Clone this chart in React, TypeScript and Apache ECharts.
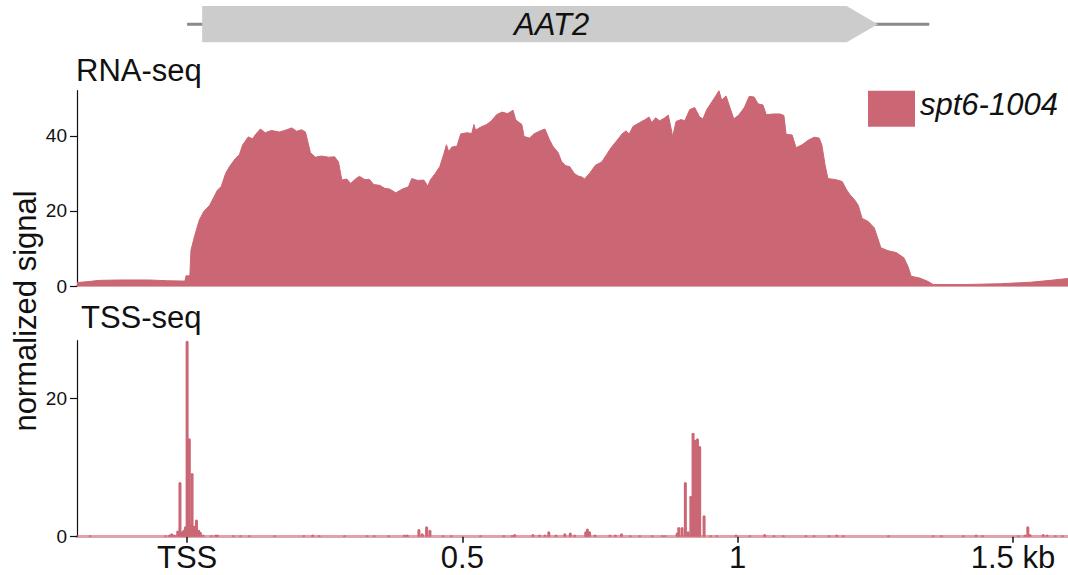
import React, { useEffect, useRef } from "react";
import * as echarts from "echarts";

// ---------- data ----------
const seriesName = "spt6-1004";
const geneName = "AAT2";
// gene model (kb from TSS)
const geneLineStart = 0;
const geneLineEnd = 1.348;
const geneBoxStart = 0.0273;
const geneArrowStart = 1.198;
const geneArrowEnd = 1.2545;
const geneLabelPos = 0.662;

// x ticks
const xTickValues = [0, 0.5, 1, 1.5];
const xTickLabels = ["TSS", "0.5", "1", "1.5 kb"];

// RNA-seq coverage (kb, normalized signal)
const rnaKb = [
  -0.2, -0.178, -0.159, -0.123, -0.069, -0.036, -0.004, -0.002, 0.005, 0.007,
  0.013, 0.022, 0.03, 0.041, 0.048, 0.055, 0.062, 0.07, 0.077, 0.088,
  0.095, 0.101, 0.111, 0.119, 0.124, 0.133, 0.142, 0.153, 0.168, 0.179,
  0.19, 0.199, 0.208, 0.215, 0.224, 0.233, 0.244, 0.257, 0.268, 0.275,
  0.281, 0.29, 0.297, 0.306, 0.313, 0.323, 0.331, 0.339, 0.35, 0.359,
  0.368, 0.379, 0.391, 0.402, 0.408, 0.419, 0.43, 0.437, 0.442, 0.451,
  0.459, 0.466, 0.471, 0.475, 0.481, 0.49, 0.497, 0.508, 0.517, 0.521,
  0.524, 0.533, 0.544, 0.553, 0.562, 0.572, 0.582, 0.592, 0.597, 0.608,
  0.612, 0.622, 0.63, 0.641, 0.65, 0.658, 0.664, 0.674, 0.68, 0.688,
  0.695, 0.703, 0.71, 0.717, 0.722, 0.731, 0.742, 0.753, 0.762, 0.77,
  0.781, 0.79, 0.797, 0.803, 0.81, 0.822, 0.832, 0.839, 0.844, 0.851,
  0.858, 0.866, 0.874, 0.879, 0.882, 0.888, 0.897, 0.904, 0.913, 0.922,
  0.931, 0.937, 0.944, 0.953, 0.961, 0.966, 0.971, 0.979, 0.986, 0.993,
  1.002, 1.012, 1.021, 1.03, 1.037, 1.046, 1.052, 1.064, 1.077, 1.084,
  1.088, 1.099, 1.106, 1.117, 1.128, 1.139, 1.148, 1.153, 1.159, 1.164,
  1.179, 1.19, 1.197, 1.204, 1.212, 1.219, 1.226, 1.237, 1.248, 1.255,
  1.26, 1.273, 1.288, 1.302, 1.31, 1.315, 1.331, 1.346, 1.355, 1.415,
  1.477, 1.532, 1.568, 1.6,
];
const rnaSignal = [
  0.9, 1.2, 1.5, 1.6, 1.6, 1.4, 1.3, 2.7, 2.7, 9.5,
  13.0, 17.5, 19.8, 21.5, 23.5, 25.5, 26.5, 30.0, 31.8, 34.0,
  35.0, 37.6, 39.7, 39.2, 40.3, 41.8, 40.8, 41.4, 41.0, 41.5,
  42.1, 41.2, 41.6, 41.0, 35.5, 34.3, 34.6, 34.3, 34.4, 33.0,
  28.2, 28.5, 27.3, 28.5, 29.2, 28.3, 28.4, 27.0, 26.8, 26.0,
  25.8, 24.8, 25.8, 26.4, 28.6, 28.1, 28.2, 26.6, 28.3, 30.0,
  31.8, 35.0, 37.6, 35.8, 37.0, 37.2, 40.5, 40.8, 40.6, 43.0,
  41.5, 42.3, 43.0, 44.0, 45.6, 46.3, 45.9, 46.8, 44.2, 43.0,
  39.8, 39.4, 40.5, 41.3, 41.8, 39.0, 37.3, 35.5, 33.2, 32.0,
  31.8, 30.0, 29.3, 29.0, 28.5, 30.0, 32.2, 33.0, 35.0, 36.8,
  38.8, 40.5, 41.3, 40.5, 42.5, 43.5, 44.3, 45.0, 43.5, 44.8,
  44.0, 44.6, 45.5, 42.0, 39.8, 43.8, 44.3, 44.0, 47.0, 47.5,
  45.0, 44.5, 47.0, 49.0, 50.8, 52.0, 49.5, 50.6, 47.5, 44.5,
  45.5, 47.5, 50.5, 50.3, 48.5, 48.2, 45.6, 45.8, 45.8, 45.4,
  40.4, 40.2, 36.8, 37.6, 38.8, 39.6, 39.4, 37.5, 32.0, 28.6,
  28.3, 27.8, 25.8, 24.3, 23.0, 21.5, 18.0, 17.2, 15.5, 12.5,
  10.2, 9.4, 8.9, 7.5, 5.0, 2.6, 2.1, 1.2, 0.4, 0.4,
  0.6, 1.0, 1.5, 2.0,
];

// TSS-seq signal (kb, normalized signal)
const tssKb = [
  -0.176, -0.039, -0.032, -0.028, -0.023, -0.017, -0.013, -0.009, -0.006, -0.003,
  0.0, 0.004, 0.006, 0.009, 0.012, 0.017, 0.021, 0.024, 0.029, 0.044,
  0.052, 0.055, 0.084, 0.097, 0.113, 0.159, 0.212, 0.228, 0.24, 0.286,
  0.327, 0.34, 0.366, 0.395, 0.4, 0.421, 0.427, 0.435, 0.441, 0.465,
  0.48, 0.533, 0.575, 0.59, 0.595, 0.628, 0.64, 0.65, 0.657, 0.67,
  0.686, 0.696, 0.704, 0.724, 0.727, 0.731, 0.741, 0.768, 0.778, 0.789,
  0.805, 0.822, 0.845, 0.863, 0.868, 0.89, 0.893, 0.899, 0.905, 0.91,
  0.915, 0.919, 0.923, 0.927, 0.931, 0.939, 0.951, 0.962, 0.997, 1.022,
  1.049, 1.066, 1.083, 1.124, 1.139, 1.166, 1.18, 1.192, 1.274, 1.355,
  1.37, 1.41, 1.433, 1.445, 1.51, 1.522, 1.527, 1.531, 1.555, 1.562,
  1.577, 1.59,
];
const tssSignal = [
  0.2, 0.2, 0.3, 0.5, 0.3, 0.9, 7.9, 0.8, 1.0, 1.5,
  28.3, 14.2, 1.8, 9.2, 1.6, 2.5, 1.0, 0.7, 0.3, 0.2,
  0.3, 0.3, 0.2, 0.2, 0.2, 0.2, 0.2, 0.3, 0.2, 0.2,
  0.2, 0.2, 0.2, 0.3, 0.3, 1.1, 0.5, 1.5, 1.0, 0.2,
  0.2, 0.2, 0.2, 0.2, 0.4, 0.4, 0.3, 0.3, 0.8, 0.3,
  0.5, 0.6, 0.3, 0.8, 1.2, 0.8, 0.3, 0.3, 0.3, 0.5,
  0.2, 0.2, 0.2, 0.2, 0.2, 0.6, 1.4, 1.4, 7.9, 0.8,
  5.9, 15.0, 14.0, 14.2, 13.1, 3.1, 0.2, 0.2, 0.3, 0.2,
  0.4, 0.2, 0.2, 0.2, 0.2, 0.2, 0.3, 0.2, 0.2, 0.2,
  0.2, 0.2, 0.3, 0.2, 0.2, 0.3, 1.5, 0.4, 0.4, 0.3,
  0.2, 0.2,
];

// y ticks
const rnaTicks = [0, 20, 40];
const tssTicks = [0, 20];

// ---------- style ----------
const FONT = "'Liberation Sans', Arial, Helvetica, sans-serif";
const RED = "#cb6674";
const BASE = "rgba(203,102,116,0.6)";
const INK = "#111";

export default function App() {
  const ref = useRef<HTMLDivElement>(null);

  useEffect(() => {
    if (!ref.current) return;
    const chart = echarts.init(ref.current, null, { renderer: "svg" });

    const rnaData = rnaKb.map((x, i) => [x, rnaSignal[i]]);
    const tssData = tssKb.map((x, i) => [x, tssSignal[i]]);

    const left = 77;
    const xBase = {
      type: "value",
      min: -0.2,
      max: 1.6,
      splitLine: { show: false },
    };
    const yBase = {
      type: "value",
      min: 0,
      splitLine: { show: false },
      axisLine: { show: true, onZero: false, lineStyle: { color: INK, width: 1.2 } },
      axisTick: { show: true, length: 7, lineStyle: { color: INK, width: 1.2 } },
      axisLabel: { color: INK, fontSize: 19, fontFamily: FONT, margin: 10 },
    };

    const option: any = {
      animation: false,
      grid: [
        { left, right: 0, top: 90.7, height: 195.3 },
        { left, right: 0, top: 340.7, height: 196 },
        { left, right: 0, top: 6, height: 36.3 },
      ],
      xAxis: [
        {
          ...xBase,
          gridIndex: 0,
          axisLine: { show: true, onZero: true, lineStyle: { color: BASE, width: 2 } },
          axisTick: { show: false },
          axisLabel: { show: false },
        },
        {
          ...xBase,
          gridIndex: 1,
          axisLine: { show: true, onZero: true, lineStyle: { color: BASE, width: 3 } },
          axisTick: {
            show: true,
            customValues: xTickValues,
            length: 6,
            lineStyle: { color: INK, width: 1.5 },
          },
          axisLabel: {
            show: true,
            customValues: xTickValues,
            color: INK,
            fontSize: 31,
            fontFamily: FONT,
            margin: 5,
            formatter: (v: number) => {
              const i = xTickValues.findIndex((t) => Math.abs(t - v) < 1e-6);
              return i >= 0 ? xTickLabels[i] : "";
            },
          },
        },
        {
          ...xBase,
          gridIndex: 2,
          show: false,
        },
      ],
      yAxis: [
        {
          ...yBase,
          gridIndex: 0,
          max: 52,
          axisTick: { ...yBase.axisTick, customValues: rnaTicks },
          axisLabel: { ...yBase.axisLabel, customValues: rnaTicks },
        },
        {
          ...yBase,
          gridIndex: 1,
          max: 28.3,
          axisTick: { ...yBase.axisTick, customValues: tssTicks },
          axisLabel: { ...yBase.axisLabel, customValues: tssTicks },
        },
        { type: "value", gridIndex: 2, min: 0, max: 1, show: false },
      ],
      series: [
        {
          name: seriesName,
          type: "line",
          xAxisIndex: 0,
          yAxisIndex: 0,
          data: rnaData,
          showSymbol: false,
          symbol: "none",
          lineStyle: { color: RED, width: 1 },
          areaStyle: { color: RED, opacity: 1 },
          itemStyle: { color: RED },
          silent: true,
          z: 3,
        },
        {
          name: seriesName,
          type: "bar",
          xAxisIndex: 1,
          yAxisIndex: 1,
          data: tssData,
          barWidth: 3,
          itemStyle: { color: RED, borderRadius: [1.5, 1.5, 0, 0] },
          silent: true,
          z: 3,
        },
        {
          type: "custom",
          xAxisIndex: 2,
          yAxisIndex: 2,
          clip: false,
          silent: true,
          data: [[geneLineStart, geneLineEnd, geneBoxStart, geneArrowStart, geneArrowEnd, geneLabelPos]],
          renderItem: (params: any, api: any) => {
            const top = api.coord([0, 1])[1];
            const bot = api.coord([0, 0])[1];
            const mid = (top + bot) / 2;
            const px = (v: number) => api.coord([v, 0.5])[0];
            const lS = px(api.value(0));
            const lE = px(api.value(1));
            const bS = px(api.value(2));
            const aS = px(api.value(3));
            const aE = px(api.value(4));
            const tX = px(api.value(5));
            return {
              type: "group",
              children: [
                {
                  type: "line",
                  shape: { x1: lS, y1: mid, x2: lE, y2: mid },
                  style: { stroke: "#8a8a8a", lineWidth: 3 },
                },
                {
                  type: "polygon",
                  shape: {
                    points: [
                      [bS, top],
                      [aS, top],
                      [aE, mid],
                      [aS, bot],
                      [bS, bot],
                    ],
                  },
                  style: { fill: "#cccccc" },
                },
                {
                  type: "text",
                  x: tX,
                  y: mid,
                  style: {
                    text: geneName,
                    fill: INK,
                    fontSize: 31,
                    fontStyle: "italic",
                    fontFamily: FONT,
                    align: "center",
                    verticalAlign: "middle",
                  },
                },
              ],
            };
          },
        },
      ],
      graphic: [
        {
          type: "text",
          x: 76,
          y: 70,
          style: {
            text: "RNA-seq",
            fill: INK,
            fontSize: 31,
            fontFamily: FONT,
            align: "left",
            verticalAlign: "middle",
          },
        },
        {
          type: "text",
          x: 81,
          y: 317,
          style: {
            text: "TSS-seq",
            fill: INK,
            fontSize: 31,
            fontFamily: FONT,
            align: "left",
            verticalAlign: "middle",
          },
        },
        {
          type: "text",
          x: 25,
          y: 311,
          rotation: Math.PI / 2,
          style: {
            text: "normalized signal",
            fill: INK,
            fontSize: 31,
            fontFamily: FONT,
            align: "center",
            verticalAlign: "middle",
          },
        },
        {
          type: "rect",
          shape: { x: 868, y: 90.7, width: 47, height: 36 },
          style: { fill: RED },
        },
        {
          type: "text",
          x: 920,
          y: 104.5,
          style: {
            text: seriesName,
            fill: INK,
            fontSize: 31,
            fontStyle: "italic",
            fontFamily: FONT,
            align: "left",
            verticalAlign: "middle",
          },
        },
      ],
    };

    chart.setOption(option);
    return () => chart.dispose();
  }, []);

  return (
    <div
      ref={ref}
      style={{ position: "absolute", left: 0, top: 0, width: 1068, height: 575, background: "#fff" }}
    />
  );
}
